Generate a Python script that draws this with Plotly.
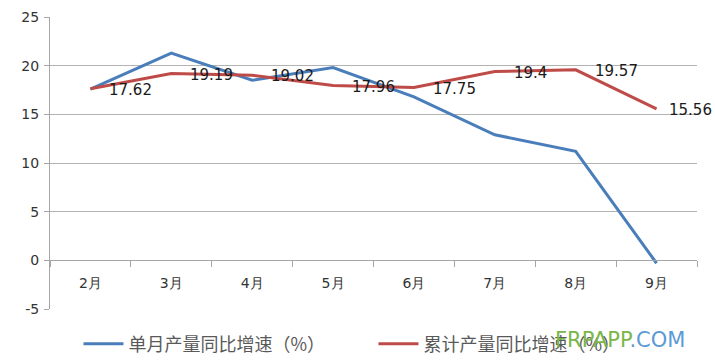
import plotly.graph_objects as go

months = ["2月", "3月", "4月", "5月", "6月", "7月", "8月", "9月"]
monthly_growth = [17.6, 21.3, 18.5, 19.8, 16.8, 12.9, 11.2, -0.3]
cumulative_growth = [17.62, 19.19, 19.02, 17.96, 17.75, 19.4, 19.57, 15.56]
cumulative_labels = ["17.62", "19.19", "19.02", "17.96", "17.75", "19.4", "19.57", "15.56"]
series_names = ["单月产量同比增速（%）", "累计产量同比增速（%）"]
y_tick_values = [-5, 0, 5, 10, 15, 20, 25]
y_tick_labels = ["-5", "0", "5", "10", "15", "20", "25"]

y_min, y_max = -5, 25

fig = go.Figure()
fig.add_trace(go.Scatter(x=months, y=monthly_growth, mode="lines", name=series_names[0],
                         line=dict(color="#4a7ebb", width=3)))
fig.add_trace(go.Scatter(x=months, y=cumulative_growth, mode="lines", name=series_names[1],
                         line=dict(color="#be4b48", width=3)))

n = len(months)
for i, (m, v, lab) in enumerate(zip(months, cumulative_growth, cumulative_labels)):
    fig.add_annotation(x=m, y=v, text=lab, showarrow=False, xanchor="left", yanchor="middle",
                       xshift=10 if i == n - 1 else 17, yshift=-1,
                       font=dict(family="DejaVu Sans", size=15, color="#1a1a1a"))

fig.add_annotation(xref="paper", yref="paper", x=0.985, y=-0.106, xanchor="right", yanchor="middle",
                   text="<span style='color:#7ab648'>FRPAPP</span><span style='color:#5b9bd5'>.COM</span>",
                   showarrow=False, font=dict(family="DejaVu Sans", size=21))

fig.update_layout(
    width=715, height=361,
    margin=dict(l=50, r=18, t=17, b=52, autoexpand=False),
    paper_bgcolor="white", plot_bgcolor="white",
    showlegend=True,
    legend=dict(orientation="h", x=0.044, xanchor="left", y=-0.12, yanchor="middle",
                font=dict(family="Noto Sans CJK SC", size=18, color="#595959"),
                itemwidth=40, tracegroupgap=0, entrywidth=240),
    xaxis=dict(type="category", range=[-0.5, 7.5], anchor="free", position=(0 - y_min) / (y_max - y_min),
               automargin=False,
               showline=True, linecolor="#a6a6a6", linewidth=1,
               ticks="outside", tickson="boundaries", ticklen=6, tickcolor="#a6a6a6",
               showgrid=False, ticklabelstandoff=10,
               tickfont=dict(family="DejaVu Sans", size=14, color="#333333")),
    yaxis=dict(range=[y_min, y_max], tickmode="array", tickvals=y_tick_values, ticktext=y_tick_labels,
               automargin=False,
               showline=True, linecolor="#a6a6a6", linewidth=1,
               ticks="outside", ticklen=5, tickcolor="#a6a6a6",
               showgrid=True, gridcolor="#b3b3b3", gridwidth=1, zeroline=False,
               ticklabelstandoff=2,
               tickfont=dict(family="DejaVu Sans", size=14, color="#333333")),
)

fig.write_html("out.html", config={"displayModeBar": False},
               post_script="document.body.style.margin='0';")
